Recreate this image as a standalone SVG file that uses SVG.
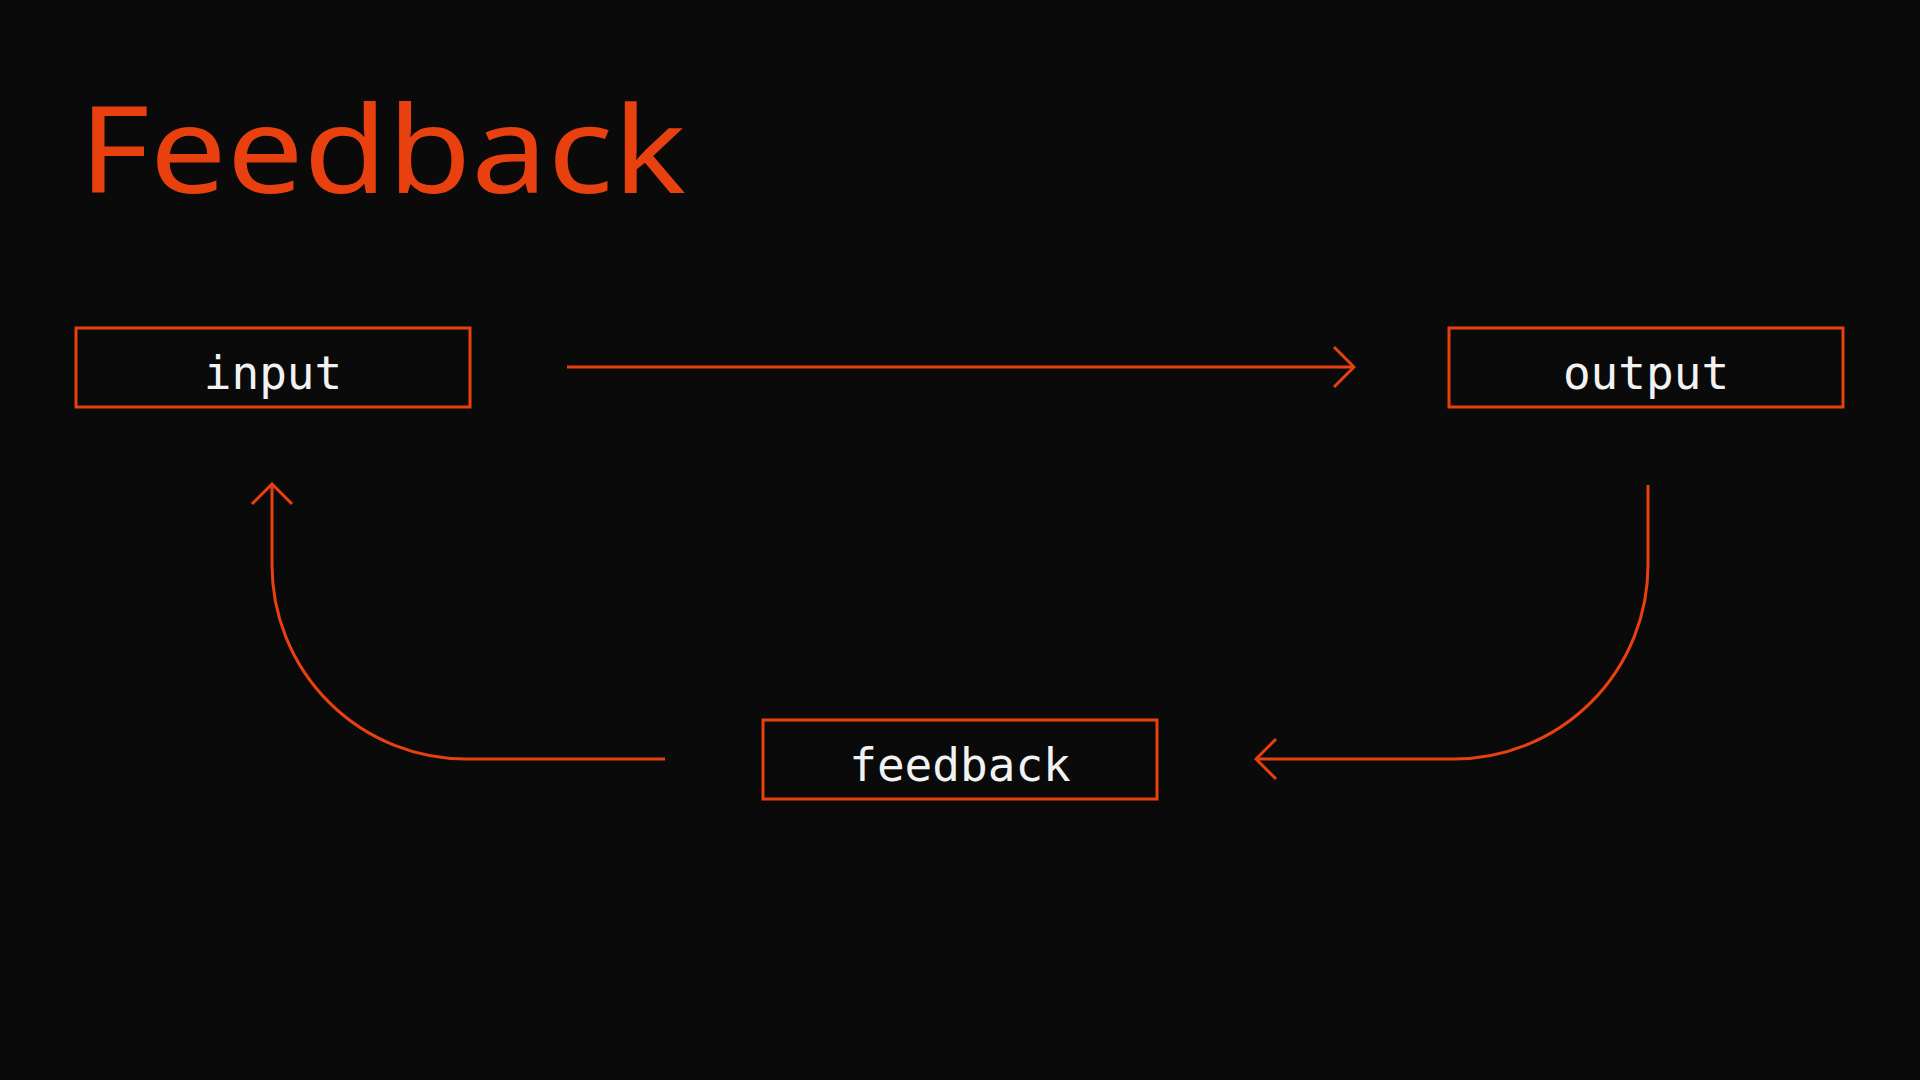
<svg xmlns="http://www.w3.org/2000/svg" width="1920" height="1080" viewBox="0 0 1920 1080">
<defs>
<style>
.box{fill:none;stroke:#E8400F;stroke-width:3}
.lbl{font-family:"DejaVu Sans Mono","Liberation Mono",monospace;font-size:46px;fill:#f2f2f2;text-anchor:middle}
.conn{fill:none;stroke:#E8400F;stroke-width:3}
</style>
<marker id="arr" viewBox="-22 -22 24 44" markerWidth="24" markerHeight="44" refX="0" refY="0" orient="auto" markerUnits="userSpaceOnUse">
<path d="M-20,-20 L0,0 L-20,20" fill="none" stroke="#E8400F" stroke-width="3"/>
</marker>
</defs>
<rect width="1920" height="1080" fill="#0a0a0a"/>
<text x="79" y="193" font-family="Noto Sans, Open Sans, sans-serif" font-size="120" fill="#E8400F" textLength="607" lengthAdjust="spacingAndGlyphs">Feedback</text>
<g id="input">
<rect class="box" x="76" y="328" width="394" height="79"/>
<text class="lbl" x="273" y="389">input</text>
</g>
<g id="output">
<rect class="box" x="1449" y="328" width="394" height="79"/>
<text class="lbl" x="1646" y="389">output</text>
</g>
<g id="feedback">
<rect class="box" x="763" y="720" width="394" height="79"/>
<text class="lbl" x="960" y="781">feedback</text>
</g>
<g id="connectors">
<path class="conn" d="M567,367 L1354,367" marker-end="url(#arr)"/>
<path class="conn" d="M1648,485 L1648,565 A194,194 0 0 1 1454,759 L1256,759" marker-end="url(#arr)"/>
<path class="conn" d="M665,759 L466,759 A194,194 0 0 1 272,565 L272,484" marker-end="url(#arr)"/>
</g>
</svg>
